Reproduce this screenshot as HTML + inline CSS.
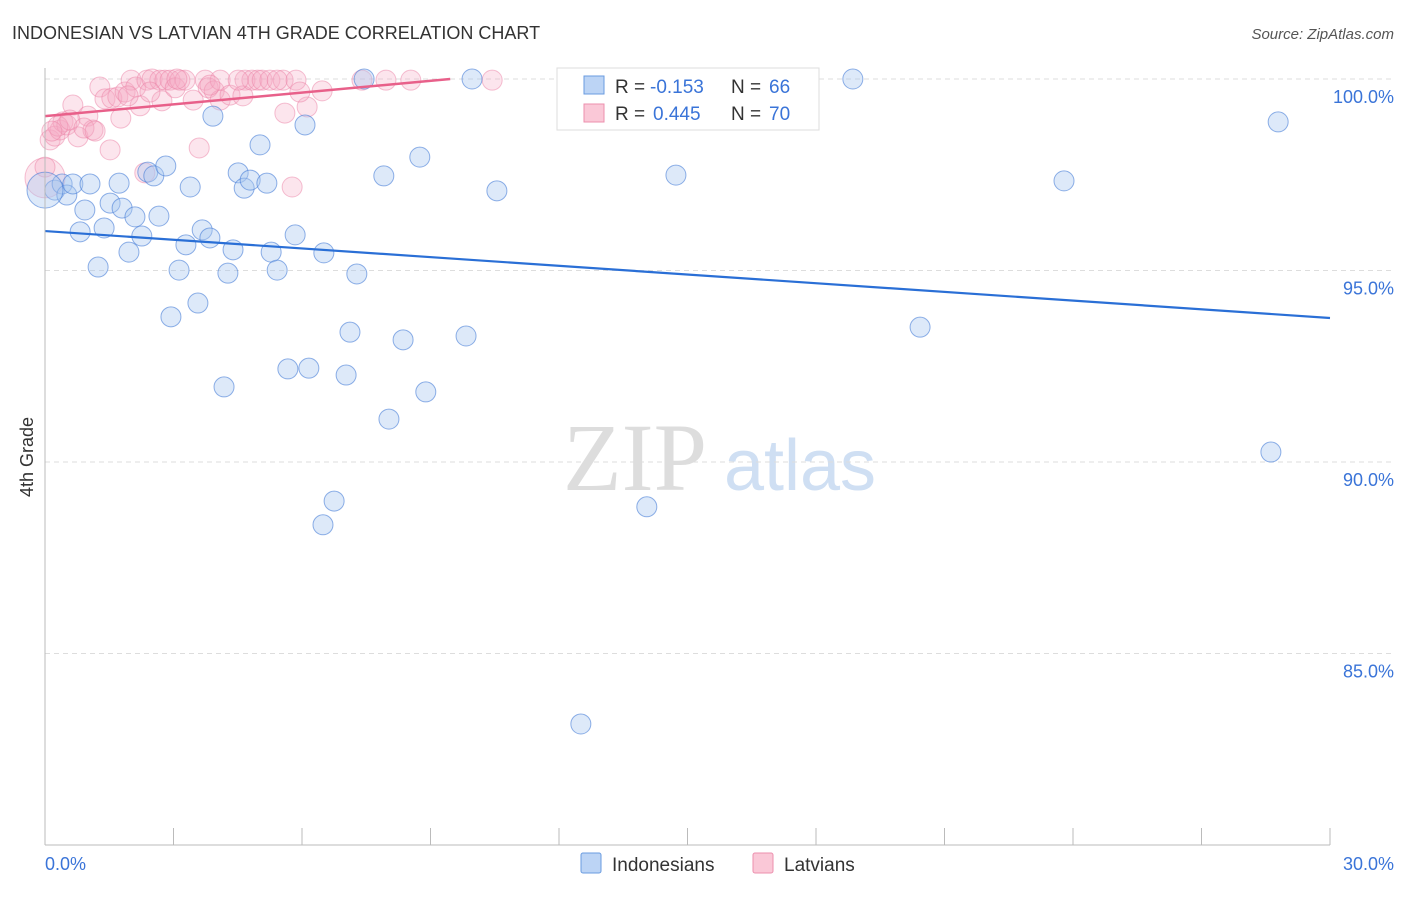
<!DOCTYPE html>
<html><head><meta charset="utf-8"><style>
body{margin:0;background:#fff;font-family:"Liberation Sans",sans-serif;}
</style></head><body>
<svg id="chart" width="1406" height="892" xmlns="http://www.w3.org/2000/svg">
<text x="12" y="39" font-size="18" fill="#333">INDONESIAN VS LATVIAN 4TH GRADE CORRELATION CHART</text>
<text x="1394" y="39" font-size="15" fill="#555" text-anchor="end" font-style="italic">Source: ZipAtlas.com</text>
<g><text x="635" y="490" font-size="96" fill="#ddd" font-family="Liberation Serif,serif" text-anchor="middle">ZIP</text><text x="800" y="490" font-size="72" fill="#cfdff3" text-anchor="middle">atlas</text></g>
<g id="grid"></g><g id="pts"></g><g id="lines"></g>
<line x1="45" y1="68" x2="45" y2="845" stroke="#bbb"/>
<line x1="45" y1="845" x2="1330" y2="845" stroke="#bbb"/>
<text x="45" y="870" font-size="18" fill="#3a74d8">0.0%</text>
<text x="1394" y="870" font-size="18" fill="#3a74d8" text-anchor="end">30.0%</text>
<text transform="translate(33,457) rotate(-90)" font-size="18" fill="#333" text-anchor="middle">4th Grade</text>
<g>
<rect x="557" y="68" width="262" height="62" fill="#fff" stroke="#ddd"/>
<rect x="584" y="76" width="20" height="18" fill="#bcd4f5" stroke="#6a9be0"/>
<rect x="584" y="104" width="20" height="18" fill="#fac8d7" stroke="#ec8fae"/>
<text x="615" y="93" font-size="19" fill="#333">R =</text>
<text x="650" y="93" font-size="19" fill="#3a74d8">-0.153</text>
<text x="731" y="93" font-size="19" fill="#333">N =</text>
<text x="769" y="93" font-size="19" fill="#3a74d8">66</text>
<text x="615" y="120" font-size="19" fill="#333">R =</text>
<text x="653" y="120" font-size="19" fill="#3a74d8">0.445</text>
<text x="731" y="120" font-size="19" fill="#333">N =</text>
<text x="769" y="120" font-size="19" fill="#3a74d8">70</text>
</g>
<g>
<rect x="581" y="853" width="20" height="20" fill="#bcd4f5" stroke="#6a9be0" rx="2"/>
<text x="612" y="871" font-size="19" fill="#333">Indonesians</text>
<rect x="753" y="853" width="20" height="20" fill="#fac8d7" stroke="#ec8fae" rx="2"/>
<text x="784" y="871" font-size="19" fill="#333">Latvians</text>
</g>
</svg>
<script>
const bluePx=[[55,190],[62,184],[67,195],[73,184],[85,210],[90,184],[80,232],[98,267],[104,228],[110,203],[119,183],[122,208],[129,252],[135,217],[142,236],[148,172],[154,176],[159,216],[166,166],[171,317],[179,270],[186,245],[190,187],[198,303],[202,230],[210,238],[213,116],[224,387],[228,273],[233,250],[238,173],[244,188],[250,180],[260,145],[267,183],[271,252],[277,270],[288,369],[295,235],[305,125],[309,368],[324,253],[323,525],[334,501],[346,375],[350,332],[357,274],[364,79],[384,176],[389,419],[403,340],[420,157],[426,392],[466,336],[472,79],[497,191],[581,724],[647,507],[676,175],[853,79],[920,327],[1064,181],[1271,452],[1278,122],[45,190]];
const pinkPx=[[45,178],[50,140],[55,136],[60,130],[63,122],[67,125],[73,105],[78,137],[88,116],[93,130],[100,87],[105,99],[110,150],[112,98],[118,97],[121,118],[125,92],[131,80],[136,87],[140,106],[145,173],[147,80],[152,79],[160,80],[162,101],[165,80],[170,80],[175,88],[180,80],[185,80],[199,148],[205,80],[208,88],[214,91],[220,80],[220,100],[230,95],[245,80],[243,96],[252,80],[258,80],[262,80],[270,80],[283,80],[285,113],[292,187],[296,80],[307,107],[322,91],[362,80],[386,80],[411,80],[492,80],[598,80],[660,80],[58,126],[70,120],[84,128],[95,131],[128,96],[150,92],[177,79],[193,100],[210,85],[238,80],[277,80],[300,92],[45,167],[52,131]];
const blueX=bluePx.map(p=>+((p[0]-45)/1285*30).toFixed(2));
const blueY=bluePx.map(p=>+(100-(p[1]-79)/38.3).toFixed(2));
const pinkX=pinkPx.map(p=>+((p[0]-45)/1285*30).toFixed(2));
const pinkY=pinkPx.map(p=>+(100-(p[1]-79)/38.3).toFixed(2));
const yTicks=[100,95,90,85];
const yTickLabels=["100.0%","95.0%","90.0%","85.0%"];
const xTicks=[0,3,6,9,12,15,18,21,24,27,30];
const blueTrend=[[0,96.03],[30,93.76]];
const pinkTrend=[[0,99.03],[9.46,100]];
const sx=v=>45+v/30*1285, sy=v=>79+(100-v)*38.3;
const NS="http://www.w3.org/2000/svg";
function mk(t,a,parent){const e=document.createElementNS(NS,t);for(const k in a)e.setAttribute(k,a[k]);document.getElementById(parent).appendChild(e);return e;}
yTicks.forEach((v,i)=>{
 const l=mk('line',{x1:45,x2:1394,y1:sy(v),y2:sy(v),stroke:'#ddd','stroke-dasharray':'5,4'},'grid');
 
 
 const t=mk('text',{x:1394,y:sy(v)+24,'font-size':18,fill:'#3a74d8','text-anchor':'end'},'grid');t.textContent=yTickLabels[i];
 
 
});
xTicks.forEach(v=>{
 const l=mk('line',{x1:sx(v),x2:sx(v),y1:828,y2:845,stroke:'#bbb'},'grid');
 
 
});
pinkX.forEach((x,i)=>{
 const c=mk('circle',{cx:sx(x),cy:sy(pinkY[i]),r:(i==0?20:10),fill:'rgba(246,170,195,0.3)',stroke:'rgba(236,130,165,0.5)','stroke-width':1},'pts');
 
 
});
blueX.forEach((x,i)=>{
 const c=mk('circle',{cx:sx(x),cy:sy(blueY[i]),r:(i==blueX.length-1?18:10),fill:'rgba(170,200,240,0.4)',stroke:'rgba(70,125,215,0.6)','stroke-width':1},'pts');
 
 
});
const bl=mk('line',{x1:sx(blueTrend[0][0]),y1:sy(blueTrend[0][1]),x2:sx(blueTrend[1][0]),y2:sy(blueTrend[1][1]),stroke:'#2a6fd6','stroke-width':2.2},'lines');


const pl=mk('line',{x1:sx(pinkTrend[0][0]),y1:sy(pinkTrend[0][1]),x2:sx(pinkTrend[1][0]),y2:sy(pinkTrend[1][1]),stroke:'#e8608a','stroke-width':2.5},'lines');


</script>
</body></html>
